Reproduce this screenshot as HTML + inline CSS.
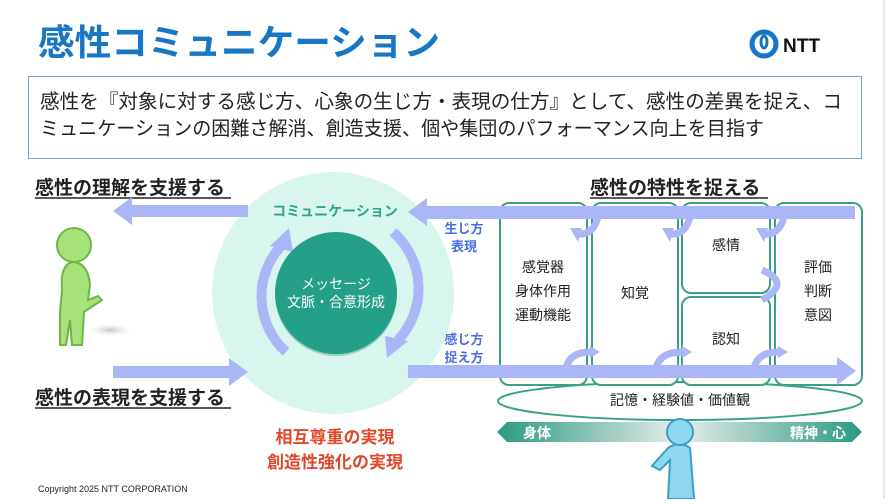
<!DOCTYPE html>
<html><head><meta charset="utf-8"><style>
body{margin:0;width:887px;height:499px;overflow:hidden;background:#fff}
text{font-family:"Liberation Sans","Noto Sans CJK JP",sans-serif}
</style></head><body>
<svg width="887" height="499" viewBox="0 0 887 499" xmlns="http://www.w3.org/2000/svg">
<defs>
<linearGradient id="g" x1="0" x2="1"><stop offset="0" stop-color="#2a9a80"/><stop offset="0.5" stop-color="#e8ecea"/><stop offset="1" stop-color="#2a9a80"/></linearGradient>
<radialGradient id="sh"><stop offset="0" stop-color="#999" stop-opacity=".6"/><stop offset="1" stop-color="#fff" stop-opacity="0"/></radialGradient>
</defs>
<line x1="884" y1="0" x2="884" y2="499" stroke="#ccc"/>
<text x="38" y="55" font-size="36" font-weight="bold" fill="#1877c4" textLength="402" lengthAdjust="spacingAndGlyphs">感性コミュニケーション</text>
<circle cx="764" cy="44" r="12" fill="none" stroke="#1877c4" stroke-width="5"/>
<ellipse cx="764" cy="42" rx="3" ry="6" fill="none" stroke="#1877c4" stroke-width="3"/>
<text x="783" y="52" font-size="19" font-weight="bold" fill="#111" font-family="Liberation Serif">NTT</text>
<rect x="28.5" y="76.5" width="833" height="82" fill="#fff" stroke="#7aa8c8"/>
<text x="40" y="108" font-size="19.5" fill="#222" textLength="802" lengthAdjust="spacingAndGlyphs">感性を『対象に対する感じ方、心象の生じ方・表現の仕方』として、感性の差異を捉え、コ</text>
<text x="40" y="135" font-size="19.5" fill="#222" textLength="724" lengthAdjust="spacingAndGlyphs">ミュニケーションの困難さ解消、創造支援、個や集団のパフォーマンス向上を目指す</text>

<text x="35" y="194" font-size="19" font-weight="bold" fill="#222">感性の理解を支援する</text>
<line x1="35" y1="198" x2="231" y2="198" stroke="#222" stroke-width="1.5"/>
<text x="35" y="404" font-size="19" font-weight="bold" fill="#222">感性の表現を支援する</text>
<line x1="35" y1="408" x2="231" y2="408" stroke="#222" stroke-width="1.5"/>
<text x="590" y="194" font-size="19" font-weight="bold" fill="#222">感性の特性を捉える</text>
<line x1="590" y1="198" x2="768" y2="198" stroke="#222" stroke-width="1.5"/>

<circle cx="333" cy="293" r="121" fill="#d9f6ee"/>
<g fill="#aab6f6">
<rect x="128" y="205" width="120" height="12"/><polygon points="113,211 132,197 132,225"/>
<rect x="425" y="206" width="430" height="13"/><polygon points="408,212 427,198 427,226"/>
<rect x="113" y="366" width="120" height="12"/><polygon points="248,372 229,358 229,386"/>
<rect x="408" y="365" width="432" height="13"/><polygon points="856,371 837,357 837,385"/>
</g>
<path d="M286 352 A75 75 0 0 1 282 245" fill="none" stroke="#aab6f6" stroke-width="10"/>
<polygon points="289,228 270,246 293,252" fill="#aab6f6"/>
<path d="M393 232 A75 75 0 0 1 398 340" fill="none" stroke="#aab6f6" stroke-width="10"/>
<polygon points="387,358 408,341 385,336" fill="#aab6f6"/>
<circle cx="336" cy="295" r="61" fill="#1e8a74" opacity=".35"/>
<circle cx="336" cy="293" r="61" fill="#23a087"/>
<text x="336" y="289" font-size="14" fill="#fff" text-anchor="middle">メッセージ</text>
<text x="336" y="307" font-size="14" fill="#fff" text-anchor="middle">文脈・合意形成</text>
<text x="335" y="216" font-size="14" font-weight="bold" fill="#2aa58a" text-anchor="middle">コミュニケーション</text>
<text x="335" y="443" font-size="17" font-weight="bold" fill="#e0482a" text-anchor="middle">相互尊重の実現</text>
<text x="335" y="468" font-size="17" font-weight="bold" fill="#e0482a" text-anchor="middle">創造性強化の実現</text>

<g font-size="13" font-weight="bold" fill="#4a6ce0" text-anchor="middle">
<text x="464" y="233">生じ方</text><text x="464" y="251">表現</text>
<text x="464" y="344">感じ方</text><text x="464" y="362">捉え方</text>
</g>

<ellipse cx="110" cy="330" rx="25" ry="7" fill="url(#sh)"/>
<g fill="#a5e27a" stroke="#6fb445" stroke-width="2">
<path d="M62 290 Q60 265 72 262 Q88 262 90 285 L88 300 L98 296 L102 300 L90 308 L84 312 L82 345 L72 345 L70 320 L66 345 L60 345 L60 312 Z"/>
<circle cx="74" cy="245" r="17"/>
</g>

<g fill="#fff" stroke="#3aa08a" stroke-width="2">
<ellipse cx="680" cy="401" rx="182" ry="19" fill="#fff"/>
<rect x="500" y="203" width="87" height="182" rx="9"/>
<rect x="592" y="203" width="86" height="182" rx="9"/>
<rect x="682" y="203" width="88" height="90" rx="9"/>
<rect x="682" y="297" width="88" height="88" rx="9"/>
<rect x="775" y="203" width="87" height="182" rx="9"/>
</g>
<text x="680" y="405" font-size="14" fill="#222" text-anchor="middle">記憶・経験値・価値観</text>
<g fill="#aab6f6">
<rect x="440" y="206" width="415" height="13"/>
<rect x="408" y="365" width="432" height="13"/><polygon points="856,371 837,357 837,385"/>
</g>
<g fill="none" stroke="#aab6f6" stroke-width="7">
<path d="M598 216 Q594 236 576 234"/><path d="M690 216 Q686 236 668 234"/><path d="M784 216 Q780 236 762 234"/>
<path d="M566 368 Q570 352 590 352"/><path d="M656 368 Q660 352 682 352"/><path d="M754 368 Q758 352 778 352"/>
<path d="M762 270 Q792 283 762 300"/>
</g>
<g fill="#aab6f6">
<polygon points="570,228 582,228 578,242"/><polygon points="662,228 674,228 670,242"/><polygon points="756,228 768,228 764,242"/>
<polygon points="590,346 590,358 600,352"/><polygon points="682,346 682,358 692,352"/><polygon points="778,346 778,358 788,352"/>
</g>
<g font-size="14" fill="#222" text-anchor="middle">
<text x="543" y="272">感覚器</text><text x="543" y="296">身体作用</text><text x="543" y="320">運動機能</text>
<text x="635" y="298">知覚</text>
<text x="726" y="250">感情</text><text x="726" y="344">認知</text>
<text x="818" y="272">評価</text><text x="818" y="296">判断</text><text x="818" y="320">意図</text>
</g>
<polygon points="497,432 507,422 852,422 862,432 852,442 507,442" fill="url(#g)"/>
<text x="523" y="438" font-size="14" font-weight="bold" fill="#fff">身体</text>
<text x="790" y="438" font-size="14" font-weight="bold" fill="#fff">精神・心</text>
<g fill="#8ed8ef" stroke="#3a9fc4" stroke-width="2">
<path d="M668 499 L670 460 L660 470 L652 466 L668 448 Q680 440 690 448 L694 499 Z"/>
<circle cx="680" cy="432" r="13"/>
</g>
<text x="38" y="492" font-size="9" fill="#222">Copyright 2025 NTT CORPORATION</text>
</svg>
</body></html>
